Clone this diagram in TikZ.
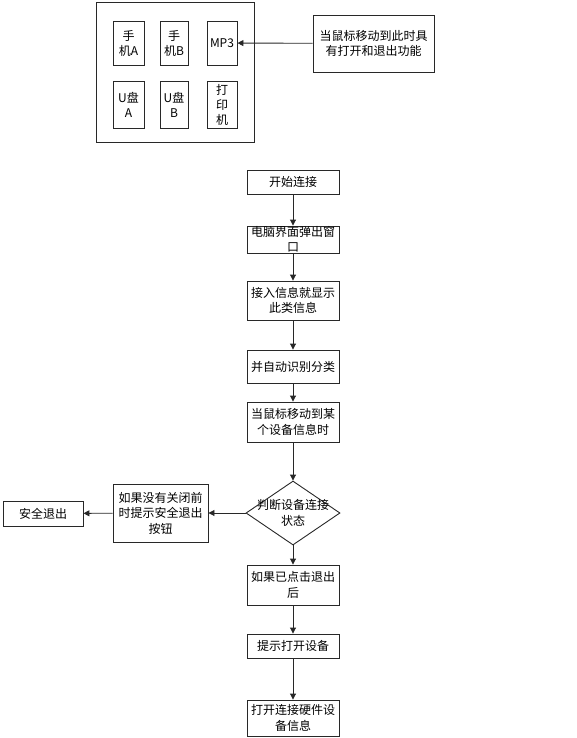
\documentclass[tikz,border=0pt]{standalone}
\usepackage{fontspec}
\usetikzlibrary{arrows.meta,positioning,shapes.geometric}
\newfontfamily\cjk{Noto Sans CJK SC}
\definecolor{lnc}{RGB}{40,40,40}
\tikzset{
  pan/.style={draw=lnc, line width=0.9pt, minimum width=158pt, minimum height=140pt, inner sep=0pt},
  dev/.style={draw=lnc, line width=0.9pt, minimum height=44pt, inner sep=0pt, align=center,
              font=\cjk\fontsize{12}{15}\selectfont},
  blk/.style={draw=lnc, line width=0.9pt, minimum width=92pt, inner sep=0pt, align=center,
              font=\cjk\fontsize{12}{15.5}\selectfont},
  dia/.style={diamond, draw=lnc, line width=0.9pt, minimum width=94pt, minimum height=64pt, inner sep=0pt},
  dtxt/.style={align=center, inner sep=0pt, font=\cjk\fontsize{12}{15.5}\selectfont},
  flowarr/.style={-{Triangle[length=6pt,width=6pt]}, lnc, line width=0.9pt},
}

\begin{document}
\begin{tikzpicture}[x=1pt, y=-1pt]
    \useasboundingbox (0,0) rectangle (576,738);
    % device panel
    \node[pan] (panel) at (175,72) {};
    \node[dev, minimum width=31pt] (phoneA) at (128.5,43) {手\\机A};
    \node[dev, minimum width=28pt] (phoneB) at (174,43) {手\\机B};
    \node[dev, minimum width=30pt] (mp3) at (222,43) {MP3};
    \node[dev, minimum width=31pt, minimum height=47pt] (udiskA) at (128.5,104.5) {U盘\\A};
    \node[dev, minimum width=28pt, minimum height=47pt] (udiskB) at (174,104.5) {U盘\\B};
    \node[dev, minimum width=30pt, minimum height=47pt] (printer) at (222,104.5) {打\\印\\机};
    \node[blk, minimum width=121pt, minimum height=57pt] (hint) at (373.5,43.5) {当鼠标移动到此时具\\有打开和退出功能};
    \draw[flowarr] (hint) -- (mp3);
    % flow
    \node[blk, minimum height=24pt] (start) at (293,182) {开始连接};
    \node[blk, minimum height=27pt] (popup) at (293,239.5) {电脑界面弹出窗\\口};
    \node[blk, minimum height=39pt] (access) at (293,300.5) {接入信息就显示\\此类信息};
    \node[blk, minimum height=33pt] (classify) at (293,366.5) {并自动识别分类};
    \node[blk, minimum height=40pt] (hover) at (293,422) {当鼠标移动到某\\个设备信息时};
    \node[dia] (judge) at (293,513) {};
    \node[dtxt] (judgetxt) at (judge) {判断设备连接\\状态};
    \node[blk, minimum width=95pt, minimum height=58pt] (exitbtn) at (160.5,513) {如果没有关闭前\\时提示安全退出\\按钮};
    \node[blk, minimum width=80pt, minimum height=25pt] (safeexit) at (43,513.5) {安全退出};
    \node[blk, minimum height=40pt] (clicked) at (293,585) {如果已点击退出\\后};
    \node[blk, minimum height=24pt] (openhint) at (293,646) {提示打开设备};
    \node[blk, minimum height=36pt] (hwinfo) at (293,718) {打开连接硬件设\\备信息};
    \draw[flowarr] (start) -- (popup);
    \draw[flowarr] (popup) -- (access);
    \draw[flowarr] (access) -- (classify);
    \draw[flowarr] (classify) -- (hover);
    \draw[flowarr] (hover) -- (judge);
    \draw[flowarr] (judge) -- (exitbtn);
    \draw[flowarr] (exitbtn) -- (safeexit);
    \draw[flowarr] (judge) -- (clicked);
    \draw[flowarr] (clicked) -- (openhint);
    \draw[flowarr] (openhint) -- (hwinfo);
\end{tikzpicture}
\end{document}
